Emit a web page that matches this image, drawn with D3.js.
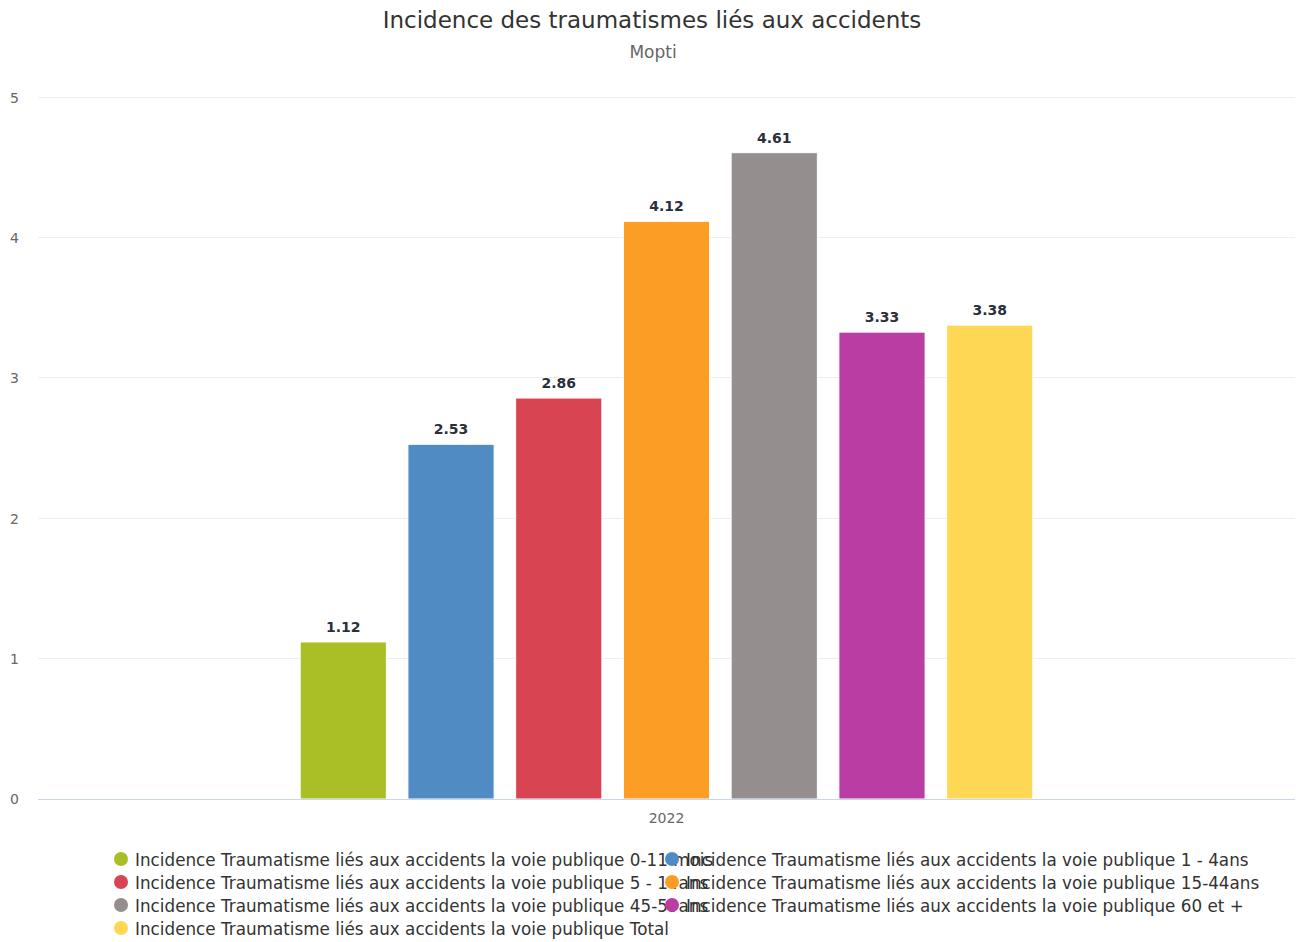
<!DOCTYPE html>
<html>
<head>
<meta charset="utf-8">
<script src="https://cdn.jsdelivr.net/npm/d3@7"></script>
<style>
  body { margin: 0; background: #fff; }
  svg { font-family: "DejaVu Sans", sans-serif; display: block; }
</style>
</head>
<body>
<div id="chart"></div>
<script>
// chart data
const categories = ["2022"];
const seriesNames = [
    "Incidence Traumatisme liés aux accidents la voie publique 0-11 mois",
    "Incidence Traumatisme liés aux accidents la voie publique 1 - 4ans",
    "Incidence Traumatisme liés aux accidents la voie publique 5 - 14ans",
    "Incidence Traumatisme liés aux accidents la voie publique 15-44ans",
    "Incidence Traumatisme liés aux accidents la voie publique 45-59ans",
    "Incidence Traumatisme liés aux accidents la voie publique 60 et +",
    "Incidence Traumatisme liés aux accidents la voie publique Total"
];
const seriesValues = [1.12, 2.53, 2.86, 4.12, 4.61, 3.33, 3.38];
const seriesColors = ["#a9bf25", "#508cc3", "#d84452", "#fd9e24", "#948e8e", "#b93da3", "#fed854"];
const yTicks = [0, 1, 2, 3, 4, 5];

const width = 1296, height = 942;
const margin = { top: 98, right: 1, bottom: 143, left: 38 };
const plotW = width - margin.left - margin.right;
const plotH = height - margin.top - margin.bottom;

const svg = d3.select("#chart").append("svg")
    .attr("width", width)
    .attr("height", height);

// title + subtitle
svg.append("text")
   .attr("x", 652).attr("y", 28)
   .attr("text-anchor", "middle")
   .attr("font-size", 23)
   .attr("fill", "#333333")
   .text("Incidence des traumatismes liés aux accidents");
svg.append("text")
   .attr("x", 653).attr("y", 58)
   .attr("text-anchor", "middle")
   .attr("font-size", 17)
   .attr("fill", "#666666")
   .text("Mopti");

const xScale = d3.scaleBand()
    .domain(categories)
    .range([0, plotW])
    .paddingInner(0)
    .paddingOuter(0);
// bars inside the category (groupPadding 0.2 on each side)
const inner = d3.scaleBand()
    .domain(d3.range(seriesNames.length))
    .range([xScale.bandwidth() * 0.2, xScale.bandwidth() * 0.8])
    .paddingInner(0.2)
    .paddingOuter(0.1);
const yScale = d3.scaleLinear()
    .domain([0, 5])
    .range([plotH, 0]);

const plot = svg.append("g")
    .attr("transform", `translate(${margin.left}, ${margin.top})`);

// grid lines
plot.selectAll("line.grid")
    .data(yTicks.filter(d => d > 0))
    .enter().append("line")
    .attr("class", "grid")
    .attr("x1", 0).attr("x2", plotW)
    .attr("y1", d => Math.round(yScale(d)) - 0.5)
    .attr("y2", d => Math.round(yScale(d)) - 0.5)
    .attr("stroke", "#eeeeee")
    .attr("stroke-width", 1);

// y labels
svg.selectAll("text.ylab")
   .data(yTicks)
   .enter().append("text")
   .attr("class", "ylab")
   .attr("x", 19)
   .attr("y", d => margin.top + yScale(d) + 5)
   .attr("text-anchor", "end")
   .attr("font-size", 14)
   .attr("fill", "#666666")
   .text(d => d);

// bars
const bars = plot.selectAll("g.bar")
    .data(seriesValues)
    .enter().append("g")
    .attr("class", "bar");
bars.append("rect")
    .attr("x", (d, i) => xScale(categories[0]) + inner(i))
    .attr("width", inner.bandwidth())
    .attr("y", d => yScale(d))
    .attr("height", d => plotH - yScale(d))
    .attr("fill", (d, i) => seriesColors[i])
    .attr("stroke", "#ffffff")
    .attr("stroke-width", 1);
bars.append("text")
    .attr("x", (d, i) => xScale(categories[0]) + inner(i) + inner.bandwidth() / 2)
    .attr("y", d => yScale(d) - 10)
    .attr("text-anchor", "middle")
    .attr("font-size", 14)
    .attr("font-weight", "bold")
    .attr("fill", "#2b2f3b")
    .attr("stroke", "#ffffff")
    .attr("stroke-width", 2)
    .attr("paint-order", "stroke")
    .text(d => d.toFixed(2));

// x axis line + label
plot.append("line")
    .attr("x1", 0).attr("x2", plotW)
    .attr("y1", plotH + 0.5).attr("y2", plotH + 0.5)
    .attr("stroke", "#ccd6eb");
plot.selectAll("text.xlab")
    .data(categories)
    .enter().append("text")
    .attr("class", "xlab")
    .attr("x", d => xScale(d) + xScale.bandwidth() / 2)
    .attr("y", plotH + 24)
    .attr("text-anchor", "middle")
    .attr("font-size", 14)
    .attr("fill", "#666666")
    .text(d => d);

// legend: two columns of fixed width, long names run over the next column
const legend = svg.append("g").attr("class", "legend");
const colX = [121, 672];
const legendItems = legend.selectAll("g.item")
    .data(seriesNames)
    .enter().append("g")
    .attr("class", "item")
    .attr("transform", (d, i) => `translate(${colX[i % 2]}, ${859 + Math.floor(i / 2) * 23})`);
legendItems.append("circle")
    .attr("r", 7)
    .attr("fill", (d, i) => seriesColors[i]);
legendItems.append("text")
    .attr("x", 14)
    .attr("y", 6.5)
    .attr("font-size", 16.8)
    .attr("fill", "#333333")
    .text(d => d);
</script>
</body>
</html>
